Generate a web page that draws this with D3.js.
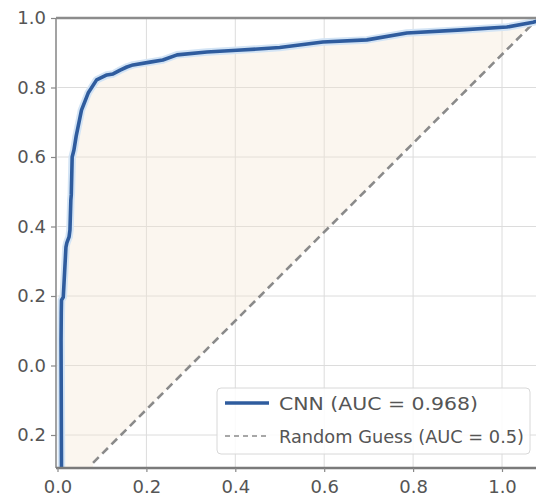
<!DOCTYPE html>
<html>
<head>
<meta charset="utf-8">
<script src="https://cdn.jsdelivr.net/npm/d3@7"></script>
<style>
    body { margin: 0; background: #fff; }
    svg text { font-family: "DejaVu Sans", sans-serif; }
</style>
</head>
<body>
<div id="chart"></div>
<script>
// ROC curve points (false positive rate, true positive rate)
var rocFpr = [0.009, 0.008, 0.0085, 0.009, 0.013, 0.019, 0.021, 0.026, 0.028, 0.030, 0.031, 0.033, 0.037,
    0.042, 0.054, 0.069, 0.088, 0.111, 0.125, 0.141, 0.156, 0.170, 0.208, 0.237, 0.269, 0.336, 0.404,
    0.500, 0.597, 0.696, 0.786, 0.900, 1.011, 1.070, 1.090];
var rocTpr = [-0.295, 0.073, 0.151, 0.188, 0.197, 0.341, 0.353, 0.370, 0.390, 0.476, 0.491, 0.600, 0.620,
    0.660, 0.735, 0.784, 0.822, 0.836, 0.839, 0.850, 0.859, 0.865, 0.873, 0.879, 0.894, 0.902, 0.907,
    0.915, 0.931, 0.937, 0.957, 0.965, 0.974, 0.988, 0.995];
// random guess reference line
var guessFpr = [0.08, 1.09];
var guessTpr = [-0.28, 1.01];

var xTicks = [0.0, 0.2, 0.4, 0.6, 0.8, 1.0];
var xTickLabels = ["0.0", "0.2", "0.4", "0.6", "0.8", "1.0"];
var yTicks = [-0.2, 0.0, 0.2, 0.4, 0.6, 0.8, 1.0];
var yTickLabels = ["0.2", "0.0", "0.2", "0.4", "0.6", "0.8", "1.0"];
var legendLabels = ["CNN (AUC = 0.968)", "Random Guess (AUC = 0.5)"];

(function () {
    var W = 536, H = 498;
    var left = 57.5, top = 18, right = 544, bottom = 468;

    var x = d3.scaleLinear().domain([0, 1]).range([left, left + 444.5]);
    var y = d3.scaleLinear().domain([1, 0]).range([top, top + 347.5]);

    var svg = d3.select("#chart").append("svg")
        .attr("width", W)
        .attr("height", H);

    svg.append("defs").append("clipPath").attr("id", "plotClip")
        .append("rect")
        .attr("x", left - 1.5).attr("y", top)
        .attr("width", right - left + 1.5).attr("height", bottom - top);

    // grid
    var grid = svg.append("g");
    grid.selectAll("line.v").data(xTicks.slice(1)).enter().append("line")
        .attr("x1", function (d) { return x(d); }).attr("x2", function (d) { return x(d); })
        .attr("y1", top).attr("y2", bottom)
        .attr("stroke", "#dcdcdc").attr("stroke-width", 1);
    grid.selectAll("line.h").data(yTicks).enter().append("line")
        .attr("x1", left).attr("x2", right)
        .attr("y1", function (d) { return y(d); }).attr("y2", function (d) { return y(d); })
        .attr("stroke", "#dcdcdc").attr("stroke-width", 1);

    var plot = svg.append("g").attr("clip-path", "url(#plotClip)");

    var roc = rocFpr.map(function (d, i) { return [d, rocTpr[i]]; });
    var guess = guessFpr.map(function (d, i) { return [d, guessTpr[i]]; });

    var line = d3.line()
        .x(function (d) { return x(d[0]); })
        .y(function (d) { return y(d[1]); });

    // shaded area between the curve and the random-guess line
    var fillPts = roc.concat(guess.slice().reverse())
        .concat([[guess[0][0], y.invert(bottom + 2)], [roc[0][0], y.invert(bottom + 2)]]);
    plot.append("path")
        .attr("d", line(fillPts) + "Z")
        .attr("fill", "#f3e6d3")
        .attr("fill-opacity", 0.36)
        .attr("stroke", "none");

    // random guess
    plot.append("path")
        .attr("d", line(guess))
        .attr("fill", "none")
        .attr("stroke", "#8a8a8a")
        .attr("stroke-width", 2.6)
        .attr("stroke-dasharray", "8,5");

    // ROC curve with soft halo
    plot.append("path")
        .attr("d", line(roc))
        .attr("fill", "none")
        .attr("stroke", "#d3e4f5")
        .attr("stroke-width", 7.5)
        .attr("stroke-linejoin", "round");
    plot.append("path")
        .attr("d", line(roc))
        .attr("fill", "none")
        .attr("stroke", "#2f5c9e")
        .attr("stroke-width", 3.6)
        .attr("stroke-linejoin", "round");

    // spines
    svg.append("line").attr("x1", left - 1.5).attr("x2", right).attr("y1", top).attr("y2", top)
        .attr("stroke", "#8c8c8c").attr("stroke-width", 2.5);
    svg.append("line").attr("x1", left - 1.5).attr("x2", left - 1.5).attr("y1", top).attr("y2", bottom)
        .attr("stroke", "#8c8c8c").attr("stroke-width", 1.6);
    svg.append("line").attr("x1", left - 1.5).attr("x2", right).attr("y1", bottom).attr("y2", bottom)
        .attr("stroke", "#7a7a7a").attr("stroke-width", 2.5);

    // axes
    var yAxis = d3.axisLeft(y)
        .tickValues(yTicks)
        .tickSize(5)
        .tickPadding(5)
        .tickFormat(function (d, i) { return yTickLabels[i]; });
    var gy = svg.append("g").attr("transform", "translate(" + (left - 1.5) + ",0)").call(yAxis);
    gy.select(".domain").remove();

    var xAxis = d3.axisBottom(x)
        .tickValues(xTicks)
        .tickSize(4)
        .tickPadding(8)
        .tickFormat(function (d, i) { return xTickLabels[i]; });
    var gx = svg.append("g").attr("transform", "translate(0," + bottom + ")").call(xAxis);
    gx.select(".domain").remove();

    [gx, gy].forEach(function (g) {
        g.selectAll(".tick line").attr("stroke", "#888").attr("stroke-width", 1.2);
        g.selectAll(".tick text")
            .attr("fill", "#555")
            .style("font-size", "18px");
    });

    // legend
    var legendW = [199, 245];
    var lg = svg.append("g").attr("transform", "translate(217,388)");
    lg.append("rect")
        .attr("width", 313).attr("height", 66)
        .attr("rx", 4)
        .attr("fill", "#fff").attr("fill-opacity", 0.85)
        .attr("stroke", "#d8d8d8").attr("stroke-width", 1);
    var rows = lg.selectAll("g.row").data(legendLabels).enter().append("g")
        .attr("transform", function (d, i) { return "translate(0," + (15 + i * 33) + ")"; });
    rows.append("line")
        .attr("x1", 8).attr("x2", 52).attr("y1", 0).attr("y2", 0)
        .attr("stroke", function (d, i) { return i === 0 ? "#2f5c9e" : "#8a8a8a"; })
        .attr("stroke-width", function (d, i) { return i === 0 ? 3.6 : 1.6; })
        .attr("stroke-dasharray", function (d, i) { return i === 0 ? null : "5,4"; });
    rows.append("text")
        .attr("x", 62).attr("y", 7)
        .attr("fill", "#555")
        .style("font-size", "18px")
        .attr("textLength", function (d, i) { return legendW[i]; })
        .attr("lengthAdjust", "spacingAndGlyphs")
        .text(function (d) { return d; });
})();
</script>
</body>
</html>
